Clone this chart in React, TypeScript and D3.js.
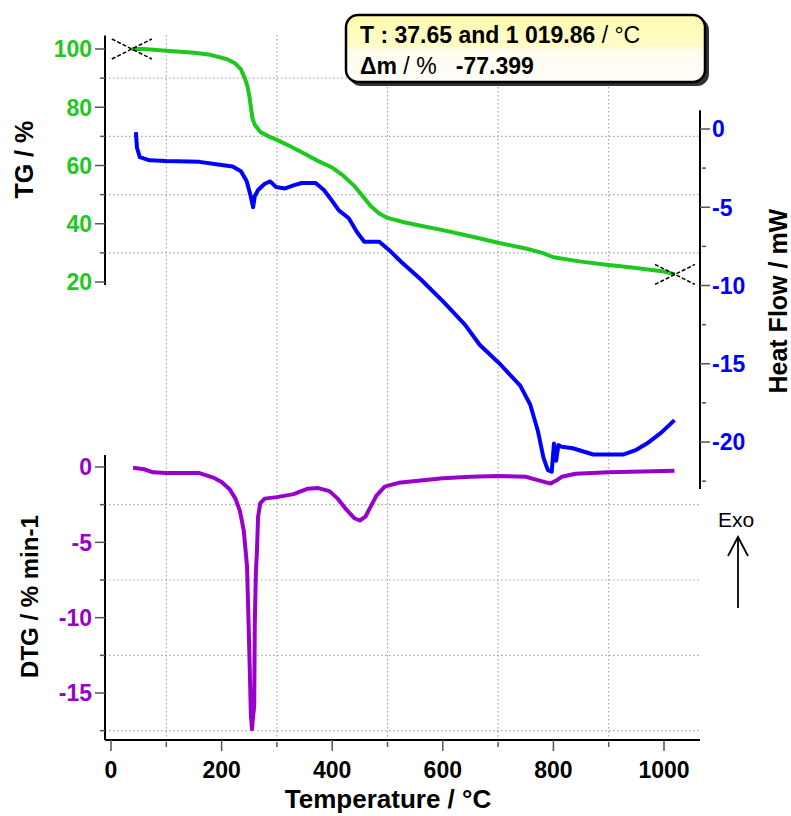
import * as d3 from "d3";

// TG curve: [temperature °C, mass %]
const tgCurve: [number, number][] = [
  [37.65, 100], [60, 100], [100, 99.4], [150, 98.7], [180, 98], [210, 96.5],
  [225, 95], [235, 93], [242, 90], [247, 87], [250, 84], [253, 80], [256, 76],
  [260, 74], [270, 71.5], [285, 70], [300, 68.8], [325, 66.5], [350, 64],
  [375, 61.5], [400, 59.3], [420, 56.5], [440, 53], [455, 49.5], [470, 46],
  [485, 43.5], [500, 42], [530, 40.5], [560, 39.3], [600, 37.8], [650, 35.7],
  [700, 33.5], [750, 31.5], [780, 30], [800, 28.5], [850, 27], [900, 25.8],
  [950, 24.8], [1000, 23.6], [1019.86, 22.6],
];

// heat flow: [temperature °C, mW]
const hfCurve: [number, number][] = [
  [45, -0.2], [47, -1.2], [52, -1.8], [70, -2.0], [100, -2.05], [160, -2.1],
  [200, -2.3], [220, -2.4], [235, -2.7], [245, -3.3], [252, -4.2], [257, -5.0],
  [260, -4.3], [266, -3.9], [278, -3.5], [288, -3.35], [298, -3.7], [315, -3.8],
  [330, -3.6], [345, -3.45], [370, -3.45], [385, -3.9], [400, -4.6], [412, -5.2],
  [430, -5.7], [445, -6.6], [458, -7.2], [485, -7.2], [505, -7.8], [525, -8.5],
  [560, -9.6], [600, -11.0], [640, -12.5], [667, -13.8], [703, -15], [740, -16.4],
  [758, -17.6], [772, -19.3], [782, -21], [790, -21.8], [797, -21.9], [801, -20.1],
  [805, -21.2], [809, -20.2], [815, -20.3], [835, -20.4], [872, -20.8], [926, -20.8],
  [950, -20.5], [969, -20.1], [995, -19.4], [1019, -18.6],
];

// DTG: [temperature °C, %/min]
const dtgCurve: [number, number][] = [
  [40, -0.05], [60, -0.15], [76, -0.35], [100, -0.4], [160, -0.4], [185, -0.7],
  [200, -1.0], [215, -1.5], [225, -2.1], [233, -2.9], [240, -4.2], [246, -6.6],
  [248, -9.3], [251, -13.5], [253, -16.5], [255, -17.4], [257, -16.5], [259, -15.9],
  [260, -10.4], [262, -7], [264, -5.5], [266, -3.3], [270, -2.4], [278, -2.1],
  [300, -2.0], [330, -1.8], [355, -1.45], [375, -1.4], [395, -1.6], [410, -2.1],
  [425, -2.8], [440, -3.4], [450, -3.55], [460, -3.3], [470, -2.6], [480, -1.9],
  [495, -1.3], [520, -1.05], [560, -0.9], [600, -0.75], [650, -0.65], [700, -0.6],
  [750, -0.65], [770, -0.85], [785, -1.0], [795, -1.1], [805, -0.9], [815, -0.65],
  [840, -0.45], [900, -0.35], [960, -0.3], [1019, -0.25],
];

const xTicks = [0, 200, 400, 600, 800, 1000];
const xMinor = [100, 300, 500, 700, 900];
const tgTicks = [20, 40, 60, 80, 100];
const tgMinor = [30, 50, 70, 90];
const hfTicks = [0, -5, -10, -15, -20];
const hfMinor = [-2.5, -7.5, -12.5, -17.5, -22.5];
const dtgTicks = [0, -5, -10, -15];
const dtgMinor = [-2.5, -7.5, -12.5, -17.5];

// step markers on the TG curve
const markerT = [37.65, 1019.86];
const markerTG = [100, 22.6];
const infoLine1 = ["T : 37.65 and 1 019.86", " / °C"];
const infoLine2 = ["Δm", " / %", "   -77.399"];

const GREEN = "#1ec81e";
const BLUE = "#0000ff";
const PURPLE = "#9900cc";
const FONT = "'Liberation Sans', Arial, sans-serif";

export default function App() {
  const left = 105, right = 700, bottom = 740;

  const x = d3.scaleLinear().domain([0, 1000]).range([111, 664]);
  const tgY = d3.scaleLinear().domain([20, 100]).range([282, 49]);
  const hfY = d3.scaleLinear().domain([-20, 0]).range([442, 129]);
  const dtgY = d3.scaleLinear().domain([-15, 0]).range([693, 467]);

  const tgLine = d3.line<[number, number]>().x(d => x(d[0])).y(d => tgY(d[1]));
  const hfLine = d3.line<[number, number]>().x(d => x(d[0])).y(d => hfY(d[1]));
  const dtgLine = d3.line<[number, number]>().x(d => x(d[0])).y(d => dtgY(d[1]));

  const grid = { stroke: "#a8a8a8", strokeWidth: 1.2, strokeDasharray: "1.5,2.5" };
  const tickText = { fontFamily: FONT, fontWeight: 700, fontSize: 23 };

  return (
    <svg width={791} height={816} style={{ position: "absolute", left: 0, top: 0, background: "#fff" }}>
      <defs>
        <linearGradient id="boxFill" x1="0" y1="0" x2="0" y2="1">
          <stop offset="0" stopColor="#fffbb0" />
          <stop offset="0.48" stopColor="#fffcc8" />
          <stop offset="0.52" stopColor="#fffcee" />
          <stop offset="1" stopColor="#fffef8" />
        </linearGradient>
      </defs>

      {/* grid */}
      {xMinor.map(t => (
        <line key={"vg" + t} x1={x(t)} x2={x(t)} y1={35} y2={bottom} {...grid} />
      ))}
      {tgMinor.map(v => (
        <line key={"tg" + v} x1={left} x2={right} y1={tgY(v)} y2={tgY(v)} {...grid} />
      ))}
      {dtgMinor.map(v => (
        <line key={"dg" + v} x1={left} x2={right} y1={dtgY(v)} y2={dtgY(v)} {...grid} />
      ))}

      {/* TG axis */}
      <line x1={left} x2={left} y1={tgY(104.6)} y2={tgY(19)} stroke="#000" strokeWidth={2} />
      {tgTicks.map(v => (
        <g key={"tt" + v}>
          <line x1={left - 10} x2={left} y1={tgY(v)} y2={tgY(v)} stroke="#555" strokeWidth={1.5} />
          <text x={left - 13} y={tgY(v)} dy="0.36em" textAnchor="end" fill={GREEN} {...tickText}>{v}</text>
        </g>
      ))}
      {tgMinor.map(v => (
        <line key={"tm" + v} x1={left - 5} x2={left} y1={tgY(v)} y2={tgY(v)} stroke="#555" strokeWidth={1.5} />
      ))}
      <text transform={`translate(33,${tgY(62)}) rotate(-90)`} textAnchor="middle"
        fontFamily={FONT} fontWeight={700} fontSize={25}>TG / %</text>

      {/* heat flow axis */}
      <line x1={right} x2={right} y1={hfY(1.2)} y2={hfY(-23)} stroke="#000" strokeWidth={2} />
      {hfTicks.map(v => (
        <g key={"ht" + v}>
          <line x1={right} x2={right + 10} y1={hfY(v)} y2={hfY(v)} stroke="#555" strokeWidth={1.5} />
          <text x={right + 12} y={hfY(v)} dy="0.36em" textAnchor="start" fill={BLUE} {...tickText}>{v}</text>
        </g>
      ))}
      {hfMinor.map(v => (
        <line key={"hm" + v} x1={right + 2} x2={right + 6} y1={hfY(v)} y2={hfY(v)} stroke="#555" strokeWidth={1.5} />
      ))}
      <text transform={`translate(787,${hfY(-11)}) rotate(-90)`} textAnchor="middle"
        fontFamily={FONT} fontWeight={700} fontSize={25}>Heat Flow / mW</text>

      {/* DTG axis */}
      <line x1={left} x2={left} y1={dtgY(0.8)} y2={bottom} stroke="#000" strokeWidth={2} />
      {dtgTicks.map(v => (
        <g key={"dt" + v}>
          <line x1={left - 10} x2={left} y1={dtgY(v)} y2={dtgY(v)} stroke="#555" strokeWidth={1.5} />
          <text x={left - 13} y={dtgY(v)} dy="0.36em" textAnchor="end" fill={PURPLE} {...tickText}>{v}</text>
        </g>
      ))}
      {dtgMinor.map(v => (
        <line key={"dm" + v} x1={left - 5} x2={left} y1={dtgY(v)} y2={dtgY(v)} stroke="#555" strokeWidth={1.5} />
      ))}
      <text transform={`translate(38,${dtgY(-8.6)}) rotate(-90)`} textAnchor="middle"
        fontFamily={FONT} fontWeight={700} fontSize={24}>DTG / % min-1</text>

      {/* temperature axis */}
      <line x1={left} x2={right} y1={bottom} y2={bottom} stroke="#000" strokeWidth={2} />
      {xTicks.map(t => (
        <g key={"xt" + t}>
          <line x1={x(t)} x2={x(t)} y1={bottom} y2={bottom + 11} stroke="#555" strokeWidth={1.5} />
          <text x={x(t)} y={778} textAnchor="middle" fill="#000" {...tickText}>{t}</text>
        </g>
      ))}
      {xMinor.map(t => (
        <line key={"xm" + t} x1={x(t)} x2={x(t)} y1={bottom + 2} y2={bottom + 7} stroke="#555" strokeWidth={1.5} />
      ))}
      <text x={388} y={808} textAnchor="middle" fontFamily={FONT} fontWeight={700} fontSize={26}>
        Temperature / °C
      </text>

      {/* curves */}
      <path d={hfLine(hfCurve) ?? ""} fill="none" stroke={BLUE} strokeWidth={4} strokeLinejoin="round" />
      <path d={dtgLine(dtgCurve) ?? ""} fill="none" stroke={PURPLE} strokeWidth={4} strokeLinejoin="round" />
      <path d={tgLine(tgCurve) ?? ""} fill="none" stroke={GREEN} strokeWidth={4} strokeLinejoin="round" />

      {/* step markers */}
      {markerT.map((t, i) => {
        const cx = x(t), cy = tgY(markerTG[i]);
        return (
          <g key={"mk" + i} stroke="#000" strokeWidth={1.5} strokeDasharray="4,2">
            <line x1={cx - 20} x2={cx + 20} y1={cy - 10} y2={cy + 10} />
            <line x1={cx - 20} x2={cx + 20} y1={cy + 10} y2={cy - 10} />
          </g>
        );
      })}

      {/* info box */}
      <rect x={349} y={18} width={360} height={68} rx={12} fill="#333" />
      <rect x={346} y={15} width={359} height={67} rx={12} fill="url(#boxFill)" stroke="#000" strokeWidth={2.5} />
      <text x={360} y={43} fontFamily={FONT} fontSize={23}>
        <tspan fontWeight={700}>{infoLine1[0]}</tspan>
        <tspan fontWeight={400}>{infoLine1[1]}</tspan>
      </text>
      <text x={360} y={74} fontFamily={FONT} fontSize={23} xmlSpace="preserve">
        <tspan fontWeight={700}>{infoLine2[0]}</tspan>
        <tspan fontWeight={400}>{infoLine2[1]}</tspan>
        <tspan fontWeight={700}>{infoLine2[2]}</tspan>
      </text>

      {/* Exo arrow */}
      <text x={736} y={527} textAnchor="middle" fontFamily={FONT} fontSize={21}>Exo</text>
      <g stroke="#000" strokeWidth={1.8} fill="none">
        <line x1={738} x2={738} y1={537} y2={608} />
        <polyline points="728,556 738,537 748,556" />
      </g>
    </svg>
  );
}
